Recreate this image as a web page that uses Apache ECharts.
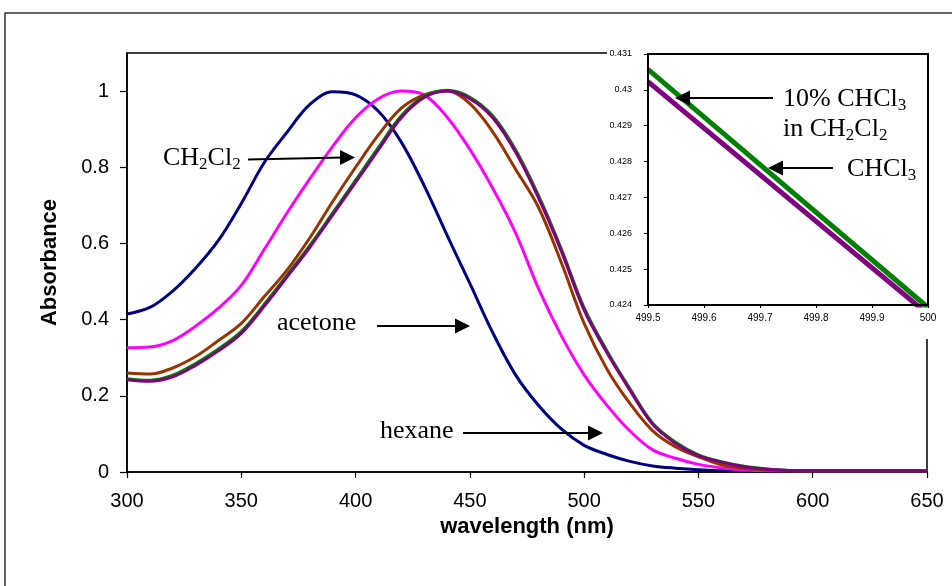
<!DOCTYPE html>
<html><head><meta charset="utf-8">
<script src="https://cdn.jsdelivr.net/npm/echarts@6/dist/echarts.min.js"></script>
<style>html,body{margin:0;padding:0;background:#fff}#c{width:952px;height:586px}</style>
</head><body><div id="c"></div>
<script>
// ---- data ----
const wavelengths = [300,310,320,330,340,350,360,370,380,390,400,410,420,430,440,450,460,470,480,490,500,510,520,530,540,550,560,570,580,590,600,650];
const navySeries    = [0.415,0.432,0.475,0.535,0.608,0.705,0.812,0.892,0.965,0.998,0.99,0.947,0.866,0.752,0.622,0.495,0.366,0.255,0.175,0.113,0.07,0.046,0.028,0.016,0.01,0.006,0.004,0.003,0.003,0.003,0.003,0.003];
const magentaSeries = [0.326,0.328,0.345,0.383,0.43,0.49,0.584,0.68,0.77,0.855,0.93,0.98,1.0,0.99,0.932,0.847,0.745,0.628,0.482,0.358,0.255,0.175,0.108,0.058,0.036,0.02,0.011,0.005,0.003,0.003,0.003,0.003];
const brownSeries   = [0.26,0.257,0.273,0.303,0.345,0.39,0.46,0.53,0.615,0.71,0.8,0.885,0.955,0.99,1.0,0.967,0.893,0.795,0.695,0.55,0.39,0.27,0.18,0.108,0.066,0.04,0.019,0.009,0.005,0.003,0.003,0.003];
const greenSeries   = [0.245,0.241,0.254,0.285,0.323,0.369,0.44,0.517,0.595,0.68,0.766,0.852,0.935,0.986,1.002,0.984,0.935,0.846,0.726,0.586,0.431,0.318,0.219,0.128,0.078,0.045,0.027,0.015,0.008,0.004,0.003,0.003];
const purpleSeries  = [0.242,0.238,0.25,0.28,0.318,0.364,0.435,0.512,0.59,0.675,0.76,0.846,0.93,0.983,1.0,0.98,0.93,0.84,0.72,0.58,0.425,0.313,0.215,0.125,0.075,0.043,0.026,0.014,0.007,0.004,0.003,0.003];

const insetWavelengths = [499.5, 500.0];
const insetGreen  = [0.43057, 0.42393];
const insetPurple = [0.43023, 0.42374];

const mainXTicks = [300,350,400,450,500,550,600,650];
const mainYTicks = [0,0.2,0.4,0.6,0.8,1];
const mainYMax = 1.1;
const insetXTicks = [499.5,499.6,499.7,499.8,499.9,500];
const insetYTicks = [0.424,0.425,0.426,0.427,0.428,0.429,0.43,0.431];

// ---- chart ----
const pairs = (xs, ys) => xs.map((x, i) => [x, ys[i]]);
const SANS = 'Liberation Sans';
const SERIF = 'Liberation Serif';

function label(x, top, parts) {
  const txt = parts.map(p => (p[1] ? '{s|' : '{n|') + p[0] + '}').join('');
  return {
    type: 'text', x: x, y: top, z: 100,
    style: {
      text: txt, align: 'left', verticalAlign: 'top',
      rich: {
        n: { fontSize: 26, fontFamily: SERIF, color: '#000', lineHeight: 30 },
        s: { fontSize: 17, fontFamily: SERIF, color: '#000', lineHeight: 14, verticalAlign: 'bottom' }
      }
    }
  };
}
function arrow(x1, y1, x2, y2) {
  const dir = x2 > x1 ? 1 : -1;
  return [
    { type: 'line', z: 100, shape: { x1: x1, y1: y1, x2: x2 - dir * 12, y2: y2 }, style: { stroke: '#000', lineWidth: 2 } },
    { type: 'polygon', z: 100, shape: { points: [[x2, y2], [x2 - dir * 15, y2 - 7.5], [x2 - dir * 15, y2 + 7.5]] }, style: { fill: '#000' } }
  ];
}

const chart = echarts.init(document.getElementById('c'));
const mainLine = (name, ys, color) => ({
  name, type: 'line', xAxisIndex: 0, yAxisIndex: 0, data: pairs(wavelengths, ys),
  showSymbol: false, smooth: 0.35, lineStyle: { color, width: 3 }, z: 2, animation: false
});
const insetLine = (name, ys, color) => ({
  name, type: 'line', xAxisIndex: 1, yAxisIndex: 1, data: pairs(insetWavelengths, ys),
  showSymbol: false, lineStyle: { color, width: 5 }, z: 60, clip: true, animation: false
});

chart.setOption({
  animation: false,
  backgroundColor: '#fff',
  grid: [
    { left: 127, top: 53, width: 800, height: 419, show: true, borderColor: '#000', borderWidth: 1.5, backgroundColor: 'transparent', z: 0 },
    { left: 648, top: 54, width: 280, height: 251, show: true, borderColor: '#000', borderWidth: 2, backgroundColor: '#fff', z: 55 }
  ],
  xAxis: [
    {
      type: 'value', gridIndex: 0, min: mainXTicks[0], max: mainXTicks[mainXTicks.length - 1], interval: 50,
      name: 'wavelength (nm)', nameLocation: 'middle', nameGap: 38,
      nameTextStyle: { fontSize: 22, fontWeight: 'bold', fontFamily: SANS, color: '#000' },
      axisLine: { lineStyle: { color: '#000', width: 1.5 } },
      axisTick: { show: true, inside: false, length: 6, lineStyle: { color: '#000', width: 1.2 }, customValues: mainXTicks },
      axisLabel: { fontSize: 20, fontFamily: SANS, color: '#000', margin: 19, customValues: mainXTicks },
      splitLine: { show: false }
    },
    {
      type: 'value', gridIndex: 1, min: insetXTicks[0], max: insetXTicks[insetXTicks.length - 1], interval: 0.1, z: 61,
      axisLine: { lineStyle: { color: '#000', width: 2 } },
      axisTick: { show: true, length: 3, lineStyle: { color: '#000' }, customValues: insetXTicks },
      axisLabel: { fontSize: 10, fontFamily: SANS, color: '#000', margin: 8, customValues: insetXTicks, formatter: v => String(+(+v).toFixed(1)) },
      splitLine: { show: false }
    }
  ],
  yAxis: [
    {
      type: 'value', gridIndex: 0, min: 0, max: mainYMax, interval: 0.2,
      name: 'Absorbance', nameLocation: 'middle', nameGap: 66,
      nameTextStyle: { fontSize: 22, fontWeight: 'bold', fontFamily: SANS, color: '#000' },
      axisLine: { show: true, lineStyle: { color: '#000', width: 1.5 } },
      axisTick: { show: true, inside: false, length: 7, lineStyle: { color: '#000', width: 1.2 }, customValues: mainYTicks },
      axisLabel: { fontSize: 20, fontFamily: SANS, color: '#000', margin: 18, customValues: mainYTicks },
      splitLine: { show: false }
    },
    {
      type: 'value', gridIndex: 1, min: insetYTicks[0], max: insetYTicks[insetYTicks.length - 1], interval: 0.001, z: 61,
      axisLine: { show: true, lineStyle: { color: '#000', width: 2 } },
      axisTick: { show: true, length: 4, lineStyle: { color: '#000' }, customValues: insetYTicks },
      axisLabel: { fontSize: 9, fontFamily: SANS, color: '#000', margin: 16, customValues: insetYTicks, formatter: v => String(+(+v).toFixed(3)) },
      splitLine: { show: false }
    }
  ],
  series: [
    mainLine('hexane', navySeries, '#000080'),
    mainLine('acetone', magentaSeries, '#FF00FF'),
    mainLine('CH2Cl2', brownSeries, '#993300'),
    mainLine('10% CHCl3 in CH2Cl2', greenSeries, '#008000'),
    mainLine('CHCl3', purpleSeries, '#800080'),
    insetLine('10% CHCl3 in CH2Cl2 (inset)', insetGreen, '#008000'),
    insetLine('CHCl3 (inset)', insetPurple, '#800080')
  ],
  graphic: [
    { type: 'rect', z: -10, shape: { x: 5, y: 13, width: 1000, height: 700 }, style: { fill: 'none', stroke: '#333', lineWidth: 1.5 } },
    { type: 'rect', z: 50, shape: { x: 607, y: 42, width: 345, height: 297 }, style: { fill: '#fff' } },
    label(163, 143, [['CH'], ['2', 1], ['Cl'], ['2', 1]]),
    ...arrow(248, 159.5, 355, 157.5),
    label(277, 308, [['acetone']]),
    ...arrow(377, 326, 470, 326),
    label(380, 416, [['hexane']]),
    ...arrow(463, 433, 603, 433),
    label(783, 84, [['10% CHCl'], ['3', 1]]),
    label(783, 114, [['in CH'], ['2', 1], ['Cl'], ['2', 1]]),
    ...arrow(773, 98, 675, 98),
    label(847, 154, [['CHCl'], ['3', 1]]),
    ...arrow(833, 168, 768, 168)
  ]
});
</script>
</body></html>
